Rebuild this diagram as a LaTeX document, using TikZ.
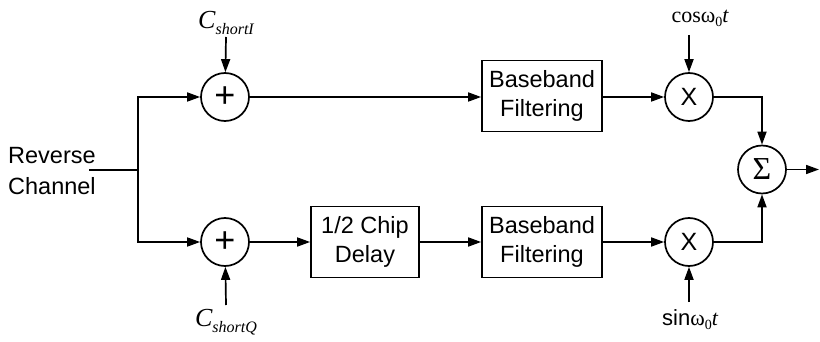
\documentclass[tikz,border=0pt]{standalone}
\usepackage{fontspec}
\setmainfont{Liberation Sans}
\newfontfamily\timesfont{Liberation Serif}
\usetikzlibrary{shapes}
\usetikzlibrary{arrows.meta}

\begin{document}
\begin{tikzpicture}[x=1pt,y=-1pt]

      \tikzset{block/.style = {shape=rectangle,draw,line width=1.7pt,minimum width=120pt,minimum height=71pt,align=center,font=\fontsize{23.5}{29}\selectfont}}
      \tikzset{op/.style = {shape=circle,draw,line width=1.7pt,minimum size=48pt,inner sep=0pt,font=\fontsize{25}{25}\selectfont}}
      \tikzset{edge/.style = {-{Triangle[length=13pt,width=9pt]},line width=1.7pt}}
      \tikzset{wire/.style = {-,line width=1.7pt}}
      \tikzset{lbl/.style = {inner sep=0pt}}
      \useasboundingbox (0,0) rectangle (820,342);
      % operators
      \node[op,font=\fontsize{36}{36}\selectfont] (addi) at (225,97)  {+};
      \node[op,font=\fontsize{36}{36}\selectfont] (addq) at (225,242) {+};
      \node[op] (muli) at (689,97)  {X};
      \node[op] (mulq) at (689,242) {X};
      \node[op] (sum)  at (762,169.5) {\timesfont\fontsize{32}{32}\selectfont Σ};
      % blocks
      \node[block] (filti) at (542,96) {Baseband\\Filtering};
      \node[block,minimum width=108pt] (delay) at (365,242) {1/2 Chip\\Delay};
      \node[block] (filtq) at (542,242) {Baseband\\Filtering};
      % labels
      \node[lbl,anchor=west,align=left,font=\fontsize{23.5}{31.5}\selectfont] (rc) at (8,171) {Reverse\\Channel};
      \node[lbl] (ci) at (226,23) {\timesfont\itshape\fontsize{26}{26}\selectfont C\raisebox{-6pt}{\fontsize{16}{16}\selectfont shortI}};
      \node[lbl] (cq) at (226,322) {\timesfont\itshape\fontsize{26}{26}\selectfont C\raisebox{-6pt}{\fontsize{16}{16}\selectfont shortQ}};
      \node[lbl] (cosl) at (700,18) {\timesfont\fontsize{22}{22}\selectfont cosω\raisebox{-4pt}{\fontsize{14}{14}\selectfont 0}\itshape t};
      \node[lbl] (sinl) at (690,320) {\fontsize{22}{22}\selectfont sin{\timesfont ω\raisebox{-4pt}{\fontsize{14}{14}\selectfont 0}\itshape t}};
      % free ends
      \coordinate (in)   at (89,170);
      \coordinate (fork) at (138,170);
      \coordinate (citop) at (226,37);
      \coordinate (cqbot) at (226,305);
      \coordinate (costop) at (689,35);
      \coordinate (sinbot) at (689,302);
      \coordinate (out)  at (819,169.5);
      % edges
      \draw[wire] (in) -- (fork);
      \draw[edge] (fork) |- (addi);
      \draw[edge] (fork) |- (addq);
      \draw[edge] (citop) -- (addi);
      \draw[edge] (cqbot) -- (addq);
      \draw[edge] (addi) -- (filti.west |- addi);
      \draw[edge] (addq) -- (delay);
      \draw[edge] (delay) -- (filtq);
      \draw[edge] (filti.east |- muli) -- (muli);
      \draw[edge] (filtq) -- (mulq);
      \draw[edge] (costop) -- (muli);
      \draw[edge] (sinbot) -- (mulq);
      \draw[edge] (muli) -| (sum);
      \draw[edge] (mulq) -| (sum);
      \draw[edge] (sum) -- (out);
\end{tikzpicture}
\end{document}
